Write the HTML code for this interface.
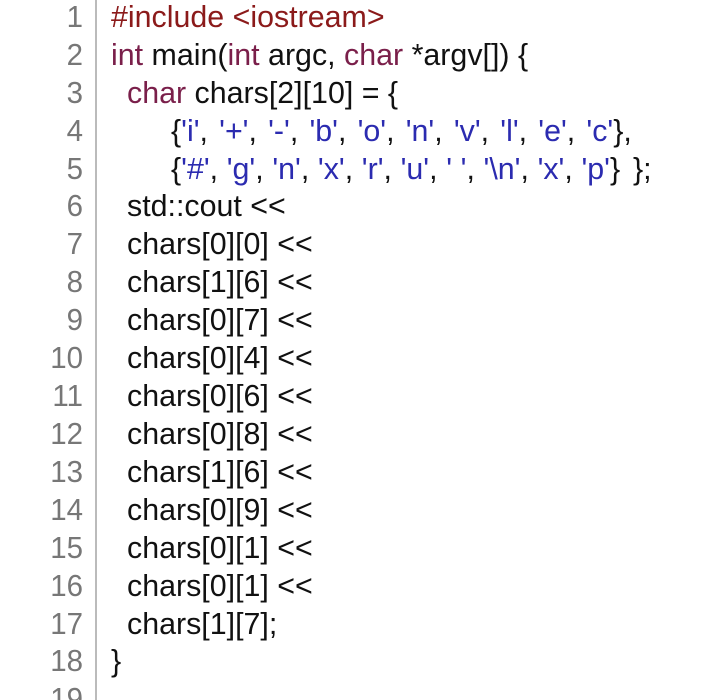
<!DOCTYPE html>
<html><head><meta charset="utf-8"><style>
html,body{margin:0;padding:0;background:#fff;width:717px;height:700px;overflow:hidden;position:relative}
.l{position:absolute;height:36px;line-height:36px;font-family:"Liberation Sans",sans-serif;font-size:31px;white-space:pre;transform:scaleX(0.98);transform-origin:left center;color:#111}
.n{position:absolute;width:96px;height:36px;line-height:36px;font-family:"Liberation Sans",sans-serif;font-size:31px;color:#777;text-align:right;transform:scaleX(.95);transform-origin:right center;right:634px}
.g{position:absolute;left:95px;top:0;width:2px;height:700px;background:#bbb}
.p{color:#8b1a1a}.k{color:#7a1f4a}.s{color:#2b2bb0}
</style></head><body>
<div class="g"></div>
<div class="n" style="top:-1px">1</div>
<div class="n" style="top:37px">2</div>
<div class="n" style="top:75px">3</div>
<div class="n" style="top:113px">4</div>
<div class="n" style="top:151px">5</div>
<div class="n" style="top:188px">6</div>
<div class="n" style="top:226px">7</div>
<div class="n" style="top:264px">8</div>
<div class="n" style="top:302px">9</div>
<div class="n" style="top:340px">10</div>
<div class="n" style="top:378px">11</div>
<div class="n" style="top:416px">12</div>
<div class="n" style="top:454px">13</div>
<div class="n" style="top:492px">14</div>
<div class="n" style="top:530px">15</div>
<div class="n" style="top:568px">16</div>
<div class="n" style="top:606px">17</div>
<div class="n" style="top:643px">18</div>
<div class="n" style="top:681px">19</div>

<div class="l" style="left:111px;top:-1px"><span class="p">#include &lt;iostream&gt;</span></div>
<div class="l" style="left:111px;top:37px"><span class="k">int</span> main(<span class="k">int</span> argc, <span class="k">char</span> *argv[]) {</div>
<div class="l" style="left:127px;top:75px"><span class="k">char</span> chars[2][10] = {</div>
<div class="l" style="left:171px;top:113px;word-spacing:2.8px">{<span class="s">'i'</span>, <span class="s">'+'</span>, <span class="s">'-'</span>, <span class="s">'b'</span>, <span class="s">'o'</span>, <span class="s">'n'</span>, <span class="s">'v'</span>, <span class="s">'l'</span>, <span class="s">'e'</span>, <span class="s">'c'</span>},</div>
<div class="l" style="left:171px;top:151px;word-spacing:0.2px">{<span class="s">'#'</span>, <span class="s">'g'</span>, <span class="s">'n'</span>, <span class="s">'x'</span>, <span class="s">'r'</span>, <span class="s">'u'</span>, <span class="s">' '</span>, <span class="s">'\n'</span>, <span class="s">'x'</span>, <span class="s">'p'</span>}</div>
<div class="l" style="left:633px;top:151px">};</div>
<div class="l" style="left:127px;top:188px">std::cout &lt;&lt;</div>
<div class="l" style="left:127px;top:226px">chars[0][0] &lt;&lt;</div>
<div class="l" style="left:127px;top:264px">chars[1][6] &lt;&lt;</div>
<div class="l" style="left:127px;top:302px">chars[0][7] &lt;&lt;</div>
<div class="l" style="left:127px;top:340px">chars[0][4] &lt;&lt;</div>
<div class="l" style="left:127px;top:378px">chars[0][6] &lt;&lt;</div>
<div class="l" style="left:127px;top:416px">chars[0][8] &lt;&lt;</div>
<div class="l" style="left:127px;top:454px">chars[1][6] &lt;&lt;</div>
<div class="l" style="left:127px;top:492px">chars[0][9] &lt;&lt;</div>
<div class="l" style="left:127px;top:530px">chars[0][1] &lt;&lt;</div>
<div class="l" style="left:127px;top:568px">chars[0][1] &lt;&lt;</div>
<div class="l" style="left:127px;top:606px">chars[1][7];</div>
<div class="l" style="left:111px;top:643px">}</div>
</body></html>
